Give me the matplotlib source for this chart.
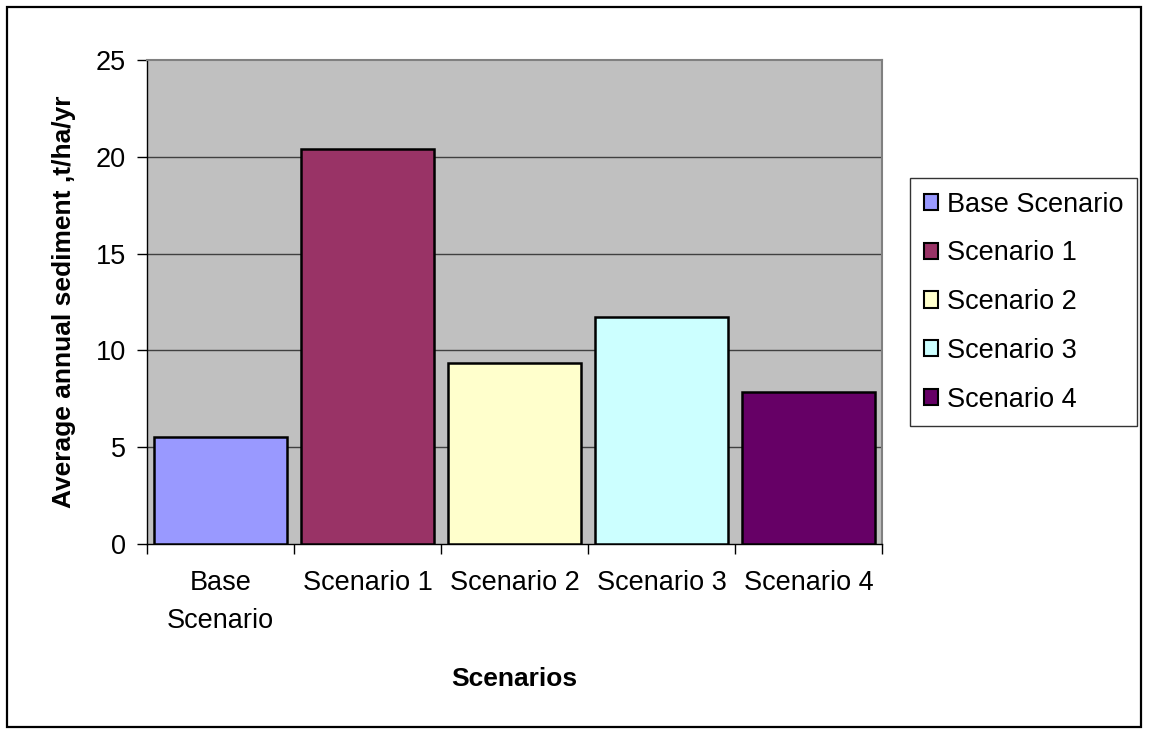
import matplotlib
matplotlib.use("Agg")
import matplotlib.pyplot as plt
from matplotlib.patches import Rectangle, Patch
import numpy as np

categories = ["Base\nScenario", "Scenario 1", "Scenario 2", "Scenario 3", "Scenario 4"]
series_names = ["Base Scenario", "Scenario 1", "Scenario 2", "Scenario 3", "Scenario 4"]
values = [5.55, 20.4, 9.35, 11.75, 7.85]
colors = ["#9999FF", "#993366", "#FFFFCC", "#CCFFFF", "#660066"]
yticks = [0, 5, 10, 15, 20, 25]

plt.rcParams['font.family'] = ['Liberation Sans', 'DejaVu Sans']

W, H = 1149, 734
fig = plt.figure(figsize=(W / 100, H / 100), dpi=100)
fig.patch.set_facecolor("white")

# outer border
fig.patches.append(Rectangle((7 / W, 1 - 727 / H), (1141 - 7) / W, (727 - 7) / H,
                             transform=fig.transFigure, fill=False,
                             edgecolor="black", linewidth=1.6))

left, right, top, bottom = 147, 882, 60, 544
ax = fig.add_axes([left / W, 1 - bottom / H, (right - left) / W, (bottom - top) / H])
ax.set_facecolor("#C0C0C0")

x = np.arange(len(values))
ax.set_xlim(-0.5, len(values) - 0.5)
ax.set_ylim(0, 25)
ax.set_yticks(yticks)
for yv in yticks[1:-1]:
    ax.axhline(yv, color="#404040", linewidth=1.0, zorder=1)

bars = ax.bar(x, values, width=0.91, color=colors, edgecolor="black",
              linewidth=1.8, zorder=3)

ax.set_xticks(x)
ax.set_xticklabels(categories, fontsize=19.5, linespacing=1.58)
ax.set_xticks(np.arange(-0.5, len(values)), minor=True)
ax.tick_params(axis="x", which="major", length=0, pad=19)
ax.tick_params(axis="x", which="minor", length=7, width=1, color="black", direction="out")
ax.tick_params(axis="y", length=7, width=1, labelsize=19.5, pad=8, direction="out")

for s in ["top", "right"]:
    ax.spines[s].set_color("#808080")
    ax.spines[s].set_linewidth(1.5)
ax.spines["left"].set_color("black")
ax.spines["bottom"].set_color("black")
ax.spines["left"].set_linewidth(1.0)
ax.spines["bottom"].set_linewidth(1.0)

ax.set_ylabel("Average annual sediment ,t/ha/yr", fontsize=19, fontweight="bold", labelpad=14)
ax.set_xlabel("Scenarios", fontsize=19, fontweight="bold", labelpad=24)

handles = [Patch(facecolor=c, edgecolor="black", linewidth=1.5) for c in colors]
leg = fig.legend(handles, series_names, loc="upper left",
                 bbox_to_anchor=(910 / W, 1 - 178 / H),
                 frameon=True, fancybox=False, fontsize=19.5,
                 handlelength=0.55, handleheight=0.55, handletextpad=0.33,
                 labelspacing=0.84, borderpad=0.5, borderaxespad=0)
leg.get_frame().set_edgecolor("black")
leg.get_frame().set_linewidth(1.0)

fig.savefig("out.png", dpi=100, facecolor="white")
